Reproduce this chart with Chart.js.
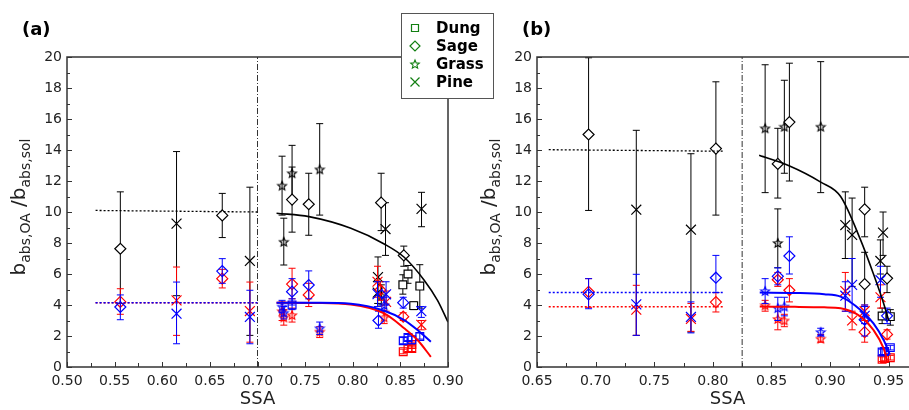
<!DOCTYPE html>
<html>
<head>
<meta charset="utf-8">
<script src="https://cdn.jsdelivr.net/npm/chart.js@4.4.1/dist/chart.umd.min.js"></script>
<style>
  html, body { margin: 0; padding: 0; background: #fff; overflow: hidden; width: 909px; height: 410px; }
  canvas { position: absolute; left: 0; top: 0; }
</style>
</head>
<body>
<canvas id="chartA" width="909" height="410"></canvas>
<canvas id="chartB" width="930" height="410"></canvas>
<script>
// rows: [SSA, ratio, err low, err high, marker]   D = diamond, X = cross, S = star, Q = square
const aBlack = [
  [0.556, 7.63, 4.1, 11.3, 'D'], [0.615, 9.25, 4.6, 13.9, 'X'], [0.663, 9.78, 8.35, 11.2, 'D'],
  [0.692, 6.84, 2.04, 11.6, 'X'], [0.7258, 11.7, 9.8, 13.6, 'S'], [0.7276, 8.08, 6.58, 9.6, 'S'],
  [0.7363, 12.5, 10.9, 14.3, 'S'], [0.7363, 10.8, 8.7, 12.9, 'D'], [0.7538, 10.5, 8.5, 12.5, 'D'],
  [0.7653, 12.75, 9.8, 15.7, 'S'], [0.8298, 10.6, 8.8, 12.5, 'D'], [0.8344, 8.9, 7.2, 10.6, 'X'],
  [0.8265, 5.8, 4.6, 7.1, 'X'], [0.8262, 4.8, 4.1, 5.5, 'X'], [0.830, 4.6, 4.0, 5.3, 'S'],
  [0.8536, 7.2, 6.5, 7.8, 'D'], [0.858, 6.0, 5.4, 6.55, 'Q'], [0.8526, 5.3, 4.7, 5.95, 'Q'],
  [0.864, 3.96, 3.7, 4.2, 'Q'], [0.8704, 5.22, 3.8, 6.6, 'Q'], [0.8722, 10.2, 9.05, 11.27, 'X']
];
const aRed = [
  [0.556, 4.2, 3.4, 5.05, 'D'], [0.615, 4.3, 2.04, 6.45, 'X'], [0.663, 5.7, 5.1, 6.3, 'D'],
  [0.692, 3.61, 1.6, 5.48, 'X'], [0.7258, 3.6, 3.0, 4.2, 'S'], [0.7276, 3.2, 2.7, 3.7, 'S'],
  [0.7363, 5.35, 4.4, 6.37, 'D'], [0.7363, 3.35, 2.9, 3.8, 'S'], [0.7538, 4.65, 3.9, 5.4, 'D'],
  [0.7653, 2.28, 1.9, 2.6, 'S'], [0.826, 5.5, 4.5, 6.5, 'X'], [0.829, 4.97, 4.3, 5.5, 'D'],
  [0.833, 3.2, 2.8, 3.6, 'S'], [0.835, 4.2, 3.6, 4.9, 'X'], [0.853, 3.25, 3.0, 3.5, 'D'],
  [0.853, 0.99, 0.85, 1.15, 'Q'], [0.858, 1.2, 1.0, 1.4, 'Q'], [0.862, 1.2, 1.0, 1.4, 'Q'],
  [0.862, 1.45, 1.3, 1.6, 'Q'], [0.872, 2.72, 2.4, 3.0, 'X']
];
const aBlue = [
  [0.556, 3.87, 3.05, 4.65, 'D'], [0.615, 3.44, 1.5, 5.48, 'X'], [0.663, 6.19, 5.4, 6.99, 'D'],
  [0.692, 3.23, 1.5, 4.95, 'X'], [0.7258, 3.9, 3.5, 4.3, 'S'], [0.7276, 3.5, 3.1, 3.9, 'S'],
  [0.7363, 4.86, 4.0, 5.7, 'D'], [0.7363, 4.0, 3.7, 4.4, 'Q'], [0.7538, 5.29, 4.4, 6.2, 'D'],
  [0.7653, 2.5, 2.1, 2.9, 'S'], [0.826, 4.7, 3.9, 5.5, 'X'], [0.827, 3.0, 2.5, 3.6, 'D'],
  [0.833, 4.0, 3.6, 4.5, 'S'], [0.835, 4.69, 4.0, 5.5, 'X'], [0.853, 4.15, 3.8, 4.5, 'D'],
  [0.853, 1.7, 1.5, 1.9, 'Q'], [0.858, 1.9, 1.7, 2.1, 'Q'], [0.862, 1.75, 1.5, 2.0, 'Q'],
  [0.8704, 1.97, 1.8, 2.2, 'Q'], [0.872, 3.6, 3.2, 3.9, 'X']
];
const bBlack = [
  [0.694, 15.0, 10.1, 19.95, 'D'], [0.7347, 10.15, 2.04, 15.27, 'X'], [0.7813, 8.86, 2.26, 13.76, 'X'],
  [0.8026, 14.09, 9.8, 18.4, 'D'], [0.8446, 15.4, 11.25, 19.5, 'S'], [0.8554, 13.1, 10.9, 15.4, 'D'],
  [0.8554, 8.0, 6.4, 10.2, 'S'], [0.861, 15.5, 12.5, 18.5, 'S'], [0.8653, 15.8, 12.0, 19.6, 'D'],
  [0.892, 15.5, 11.25, 19.7, 'S'], [0.913, 9.16, 7.0, 11.3, 'X'], [0.9188, 8.52, 5.2, 10.9, 'X'],
  [0.9295, 10.17, 8.4, 11.6, 'D'], [0.9295, 5.35, 3.9, 7.4, 'D'], [0.9452, 8.67, 7.2, 10.0, 'X'],
  [0.9429, 6.84, 6.0, 8.2, 'X'], [0.9486, 5.72, 4.8, 6.5, 'D'], [0.9444, 3.29, 2.8, 3.8, 'Q'],
  [0.9514, 3.25, 2.7, 3.7, 'Q']
];
const bRed = [
  [0.694, 4.85, 3.85, 5.7, 'D'], [0.7347, 3.7, 2.04, 5.27, 'X'], [0.7813, 3.1, 2.3, 4.1, 'X'],
  [0.8026, 4.19, 3.55, 4.8, 'D'], [0.8446, 3.98, 3.6, 4.3, 'S'], [0.8554, 5.63, 5.2, 6.1, 'D'],
  [0.8554, 3.1, 2.4, 3.9, 'S'], [0.861, 3.0, 2.6, 3.4, 'S'], [0.8653, 4.95, 4.2, 5.7, 'D'],
  [0.892, 1.83, 1.6, 2.1, 'S'], [0.913, 4.9, 3.6, 6.1, 'X'], [0.9188, 3.0, 2.4, 3.6, 'X'],
  [0.9295, 2.25, 1.6, 2.8, 'D'], [0.9295, 3.6, 3.0, 4.0, 'X'], [0.943, 4.5, 3.8, 5.3, 'X'],
  [0.9486, 2.1, 1.8, 2.4, 'D'], [0.9444, 0.5, 0.35, 0.65, 'Q'], [0.9465, 0.55, 0.4, 0.7, 'Q'],
  [0.9514, 0.6, 0.45, 0.75, 'Q']
];
const bBlue = [
  [0.694, 4.69, 3.76, 5.7, 'D'], [0.7347, 4.04, 2.04, 5.98, 'X'], [0.7813, 3.23, 2.2, 4.2, 'X'],
  [0.8026, 5.76, 4.8, 7.2, 'D'], [0.8446, 4.9, 4.1, 5.7, 'S'], [0.8554, 5.85, 5.3, 6.4, 'D'],
  [0.8554, 3.8, 3.0, 4.5, 'S'], [0.861, 3.9, 3.3, 4.5, 'S'], [0.8653, 7.16, 6.0, 8.4, 'D'],
  [0.892, 2.26, 2.0, 2.5, 'S'], [0.913, 4.6, 3.6, 5.5, 'X'], [0.9188, 5.3, 3.5, 7.0, 'X'],
  [0.9295, 3.05, 2.0, 4.0, 'D'], [0.9295, 3.3, 2.8, 3.9, 'X'], [0.943, 5.6, 4.5, 6.5, 'X'],
  [0.9486, 3.3, 2.8, 3.8, 'D'], [0.9444, 0.97, 0.8, 1.15, 'Q'], [0.9465, 1.0, 0.8, 1.2, 'Q'],
  [0.9514, 1.25, 1.1, 1.4, 'Q']
];

// fitted curves
const aBlackFit = [[0.72, 9.92], [0.754, 9.7], [0.798, 8.95], [0.833, 7.94], [0.854, 7.08], [0.875, 5.6], [0.889, 4.3], [0.90, 2.9]];
const aBlueFit = [[0.72, 4.15], [0.76, 4.14], [0.798, 4.08], [0.833, 3.63], [0.854, 3.03], [0.868, 2.39], [0.882, 1.63]];
const aRedFit = [[0.72, 4.15], [0.76, 4.13], [0.798, 4.03], [0.833, 3.46], [0.854, 2.5], [0.868, 1.74], [0.882, 0.66]];
const bBlackFit = [[0.8395, 13.66], [0.8645, 13.0], [0.892, 11.93], [0.909, 11.0], [0.926, 8.2], [0.937, 6.0], [0.9457, 4.1], [0.95, 3.0]];
const bBlueFit = [[0.84, 4.8], [0.87, 4.78], [0.895, 4.7], [0.909, 4.54], [0.926, 3.68], [0.937, 2.82], [0.9457, 1.74], [0.951, 0.8]];
const bRedFit = [[0.84, 3.9], [0.87, 3.88], [0.895, 3.85], [0.909, 3.79], [0.926, 3.25], [0.937, 2.39], [0.9457, 1.2], [0.9486, 0.45]];

// mean levels in the low-SSA region
const aBlackMean = [[0.53, 10.1], [0.70, 10.0]];
const aBlueMean = [[0.53, 4.15], [0.70, 4.15]];
const aRedMean = [[0.53, 4.15], [0.70, 4.15]];
const bBlackMean = [[0.66, 14.02], [0.81, 13.92]];
const bBlueMean = [[0.66, 4.8], [0.81, 4.8]];
const bRedMean = [[0.66, 3.88], [0.81, 3.88]];

const aSplit = 0.70;
const bSplit = 0.825;

const legendNames = ['Dung', 'Sage', 'Grass', 'Pine'];
const legendMarks = ['Q', 'D', 'S', 'X'];

const BLACK = '#000000', RED = '#ff0000', BLUE = '#0000ff', GREEN = '#127f12';
const FONT = "'DejaVu Sans', Verdana, sans-serif";

function starPath(g, cx, cy, big) {
  g.beginPath();
  for (let i = 0; i < 10; i++) {
    const r = i % 2 ? big * 0.45 : big;
    const ang = -Math.PI / 2 + i * Math.PI / 5;
    const px = cx + r * Math.cos(ang), py = cy + r * Math.sin(ang);
    if (i) g.lineTo(px, py); else g.moveTo(px, py);
  }
  g.closePath();
}

function starImage(color) {
  const c = document.createElement('canvas');
  c.width = 12; c.height = 12;
  const g = c.getContext('2d');
  g.strokeStyle = color;
  g.lineWidth = 1.15;
  starPath(g, 6, 6.4, 4.6);
  g.stroke();
  return c;
}
const stars = { [BLACK]: starImage(BLACK), [RED]: starImage(RED), [BLUE]: starImage(BLUE) };

const STYLE = { D: 'rectRot', X: 'crossRot', Q: 'rect' };
const RADIUS = { D: 5.5, X: 7, Q: 5.5, S: 6 };

function pointSet(rows, color, fill) {
  return {
    data: rows.map(r => ({ x: r[0], y: r[1] })),
    errLo: rows.map(r => r[2]),
    errHi: rows.map(r => r[3]),
    pointStyle: rows.map(r => r[4] === 'S' ? stars[color] : STYLE[r[4]]),
    pointRadius: rows.map(r => RADIUS[r[4]]),
    borderColor: color,
    pointBorderColor: color,
    pointBackgroundColor: fill,
    pointBorderWidth: 1.2,
    showLine: false
  };
}

function lineSet(pts, color, width, dash, smooth) {
  return {
    data: pts.map(p => ({ x: p[0], y: p[1] })),
    showLine: true,
    borderColor: color,
    borderWidth: width,
    borderDash: dash || [],
    pointRadius: 0,
    cubicInterpolationMode: smooth ? 'monotone' : 'default',
    tension: 0
  };
}

const errorBars = {
  id: 'errorBars',
  beforeDatasetDraw(chart, args) {
    const ds = chart.data.datasets[args.index];
    if (!ds.errLo) return;
    const { ctx, scales: { x, y } } = chart;
    ctx.save();
    ctx.strokeStyle = ds.borderColor;
    ctx.lineWidth = 1;
    ds.data.forEach((p, j) => {
      const px = x.getPixelForValue(p.x);
      const top = y.getPixelForValue(ds.errHi[j]);
      const bot = y.getPixelForValue(ds.errLo[j]);
      ctx.beginPath();
      ctx.moveTo(px, top); ctx.lineTo(px, bot);
      ctx.moveTo(px - 3.5, top); ctx.lineTo(px + 3.5, top);
      ctx.moveTo(px - 3.5, bot); ctx.lineTo(px + 3.5, bot);
      ctx.stroke();
    });
    ctx.restore();
  }
};

const frame = {
  id: 'frame',
  afterDatasetsDraw(chart, args, opts) {
    const { ctx, chartArea: a, scales: { x, y } } = chart;
    ctx.save();
    ctx.strokeStyle = '#333';
    ctx.lineWidth = 1.5;
    ctx.strokeRect(a.left, a.top, a.right - a.left, a.bottom - a.top);
    ctx.lineWidth = 1;
    ctx.beginPath();
    x.ticks.forEach(t => {
      const px = Math.round(x.getPixelForValue(t.value)) + 0.5;
      const len = t.label ? 5 : 4;
      ctx.moveTo(px, a.bottom); ctx.lineTo(px, a.bottom - len);
    });
    y.ticks.forEach(t => {
      const py = Math.round(y.getPixelForValue(t.value)) + 0.5;
      const len = t.label ? 5 : 3;
      ctx.moveTo(a.left, py); ctx.lineTo(a.left + len, py);
    });
    ctx.stroke();

    // panel tag
    ctx.fillStyle = '#000';
    ctx.font = 'bold 18px ' + FONT;
    ctx.textBaseline = 'middle';
    ctx.fillText(opts.tag, a.left + opts.tagDx, 30);

    // y axis title with subscripts
    ctx.translate(a.left - 42, 207);
    ctx.rotate(-Math.PI / 2);
    ctx.textBaseline = 'alphabetic';
    const parts = [['b', 20, 0], ['abs,OA', 14, 5], [' /b', 20, 0], ['abs,sol', 14, 5]];
    let total = 0;
    parts.forEach(p => { ctx.font = p[1] + 'px ' + FONT; total += ctx.measureText(p[0]).width; });
    let cx = -total / 2;
    ctx.fillStyle = '#222';
    parts.forEach(p => {
      ctx.font = p[1] + 'px ' + FONT;
      ctx.fillText(p[0], cx, p[2]);
      cx += ctx.measureText(p[0]).width;
    });
    ctx.restore();
  }
};

function drawMark(ctx, m, x, y, color) {
  ctx.strokeStyle = color;
  ctx.lineWidth = 1.2;
  ctx.beginPath();
  if (m === 'Q') {
    ctx.rect(x - 3.5, y - 3.5, 7, 7);
  } else if (m === 'D') {
    ctx.moveTo(x - 5, y); ctx.lineTo(x, y - 5); ctx.lineTo(x + 5, y); ctx.lineTo(x, y + 5); ctx.closePath();
  } else if (m === 'X') {
    ctx.moveTo(x - 4.5, y - 4.5); ctx.lineTo(x + 4.5, y + 4.5);
    ctx.moveTo(x + 4.5, y - 4.5); ctx.lineTo(x - 4.5, y + 4.5);
  } else if (m === 'S') {
    ctx.lineWidth = 1.1;
    starPath(ctx, x, y + 0.5, 4.5);
  }
  ctx.stroke();
}

const sourceLegend = {
  id: 'sourceLegend',
  afterDraw(chart) {
    const ctx = chart.ctx;
    ctx.save();
    ctx.fillStyle = '#fff';
    ctx.fillRect(401, 13, 92, 85);
    ctx.strokeStyle = '#555';
    ctx.lineWidth = 1;
    ctx.strokeRect(401.5, 13.5, 92, 85);
    ctx.font = 'bold 15px ' + FONT;
    ctx.textBaseline = 'middle';
    legendNames.forEach((name, i) => {
      const ly = 28 + i * 18;
      drawMark(ctx, legendMarks[i], 415, ly, GREEN);
      ctx.fillStyle = '#000';
      ctx.fillText(name, 436, ly + 1);
    });
    ctx.restore();
  }
};

function makeChart(id, panel) {
  return new Chart(document.getElementById(id), {
    type: 'scatter',
    data: {
      datasets: [
        lineSet(panel.blueFit, BLUE, 2, null, true),
        lineSet(panel.redFit, RED, 2, null, true),
        lineSet(panel.blackFit, BLACK, 1.6, null, true),
        lineSet(panel.blueMean, BLUE, 1.5, [2, 2]),
        lineSet(panel.redMean, RED, 1.5, [2, 2]),
        lineSet(panel.blackMean, BLACK, 1.3, [2, 2]),
        lineSet([[panel.split, 0], [panel.split, 20]], '#333', 1, [6, 2, 1, 2]),
        pointSet(panel.blue, BLUE, 'rgba(0,0,0,0)'),
        pointSet(panel.red, RED, 'rgba(0,0,0,0)'),
        pointSet(panel.black, BLACK, '#fff')
      ]
    },
    options: {
      responsive: false,
      animation: false,
      layout: { padding: panel.padding },
      plugins: {
        legend: { display: false },
        tooltip: { enabled: false },
        frame: { tag: panel.tag, tagDx: panel.tagDx }
      },
      scales: {
        x: {
          type: 'linear',
          min: panel.xMin, max: panel.xMax,
          grid: { display: false, drawTicks: false },
          border: { display: false },
          afterFit: s => { s.height = 43; },
          ticks: {
            stepSize: 0.025, autoSkip: false, maxRotation: 0, padding: 6,
            color: '#222', font: { family: FONT, size: 14 },
            callback: v => Math.round(v * 1000) % 50 === 0 ? v.toFixed(2) : ''
          },
          title: { display: true, text: 'SSA', color: '#222', font: { family: FONT, size: 18 }, padding: { top: 0, bottom: 0 } }
        },
        y: {
          min: 0, max: 20,
          grid: { display: false, drawTicks: false },
          border: { display: false },
          afterFit: s => { s.width = 40; },
          ticks: {
            stepSize: 1, autoSkip: false, padding: 5,
            color: '#222', font: { family: FONT, size: 14 },
            callback: v => v % 2 === 0 ? String(v) : ''
          }
        }
      }
    },
    plugins: panel.plugins
  });
}

makeChart('chartA', {
  black: aBlack, red: aRed, blue: aBlue,
  blackFit: aBlackFit, redFit: aRedFit, blueFit: aBlueFit,
  blackMean: aBlackMean, redMean: aRedMean, blueMean: aBlueMean,
  split: aSplit, xMin: 0.50, xMax: 0.90,
  padding: { left: 27, right: 461, top: 57, bottom: 0 },
  tag: '(a)', tagDx: -45,
  plugins: [errorBars, frame]
});

makeChart('chartB', {
  black: bBlack, red: bRed, blue: bBlue,
  blackFit: bBlackFit, redFit: bRedFit, blueFit: bBlueFit,
  blackMean: bBlackMean, redMean: bRedMean, blueMean: bBlueMean,
  split: bSplit, xMin: 0.65, xMax: 0.975,
  padding: { left: 497, right: 12, top: 57, bottom: 0 },
  tag: '(b)', tagDx: -15,
  plugins: [errorBars, frame, sourceLegend]
});
</script>
</body>
</html>
